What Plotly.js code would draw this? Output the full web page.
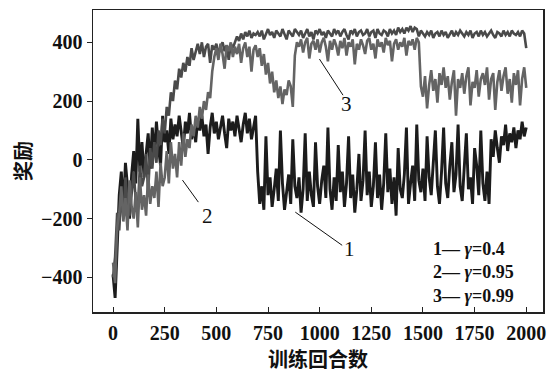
<!DOCTYPE html>
<html>
<head>
<meta charset="utf-8">
<script src="https://cdn.plot.ly/plotly-3.0.1.min.js"></script>
<style>html,body{margin:0;padding:0;background:#fff;}#chart{width:548px;height:375px;}</style>
</head>
<body>
<div id="chart"></div>
<script>
const rewardG04 = [
  -390, -470, -300, -120, -40, -170, -10, -90, -200, -50,
  30, -80, 140, -40, 60, -60, 20, 90, -30, 110,
  10, 130, 40, -20, 150, 60, 100, 20, 140, 70,
  120, 80, 150, 100, 40, 130, 90, 160, 70, 110,
  60, 140, 100, 150, 80, 120, 20, 110, 160, 90,
  130, 70, 110, 150, 90, 40, 140, 100, 130, 80,
  150, 110, 60, 120, 160, 90, 140, 70, 110, 150,
  -40, -150, -90, -170, 80, -120, -60, -160, -100, -30,
  -140, 100, -80, -170, -110, -50, -150, 70, -90, -130,
  -60, -180, -100, 90, -140, -40, -120, -160, 60, -90,
  -150, -70, -20, -130, 110, -100, -170, -60, -140, 50,
  -110, -40, -160, -80, 80, -130, -50, -180, -100, 20,
  -140, -70, 100, -120, -40, -160, -90, 60, -130, -50,
  -170, -80, 90, -110, -30, -150, -60, -190, 40, -100,
  -130, -50, 110, -150, -80, -20, -140, 120, -70, -110,
  -30, -140, 80, -60, -120, -10, 100, -90, -150, -40,
  110, -80, -130, -20, 60, -110, -50, 120, -90, -140,
  -30, 90, -100, -60, -150, 40, -20, -120, 100, -80,
  -140, -40, -150, 70, 10, 100, 40, -10, 80, 50,
  120, 30, 90, 60, 110, 40, 100, 70, 130, 80,
  110
];
const rewardG095 = [
  -350, -420, -230, -180, -90, -210, -130, -240, -70, -160,
  -200, -110, -230, -60, -170, -120, -190, -50, -150, -90,
  -130, -40, -160, -10, -90, -60, 30, -80, 60, -30,
  20, -60, 60, -20, 90, 10, 70, 40, 120, 80,
  150, 110, 180, 140, 200, 170, 230, 210, 300, 350,
  380, 340, 395, 360, 310, 390, 370, 400, 350, 385,
  360, 395, 330, 380, 400, 350, 385, 300, 375, 390,
  350, 380, 320, 360, 290, 330, 260, 300, 230, 270,
  210, 250, 190, 240, 220, 270, 250, 180, 355, 400,
  385, 410, 365, 400, 415, 345, 395, 405, 375, 410,
  365, 400, 415, 385, 335, 405, 375, 410, 390, 355,
  405, 380, 415, 355, 400, 385, 410, 325, 395, 375,
  410, 390, 360, 405, 415, 375, 395, 345, 410, 385,
  400, 365, 415, 390, 405, 335, 395, 410, 375, 400,
  385, 415, 355, 405, 390, 410, 375, 415, 400, 250,
  215, 285, 175, 255, 305, 235, 275, 195, 295, 255,
  315, 245, 285, 205, 265, 305, 150, 275, 245, 295,
  225, 285, 315, 185, 265, 245, 305, 215, 275, 295,
  255, 315, 205, 275, 295, 170, 265, 305, 235, 285,
  315, 225, 275, 195, 295, 255, 305, 185, 275, 315,
  245
];
const rewardG099 = [
  -400, -330, -180, -240, -110, -200, -60, -150, -190, -100,
  -40, -140, -170, -20, -90, -60, 20, -110, 40, -30,
  60, -10, 100, 50, 140, 90, 180, 150, 230, 200,
  270, 240, 310, 280, 330, 300, 350, 320, 380, 340,
  370, 395, 360, 400, 350, 385, 395, 330, 390, 375,
  395, 360, 385, 400, 370, 390, 340, 395, 380, 400,
  420, 405, 430, 410, 435, 420, 440, 415, 430, 425,
  435, 420, 440, 410, 430, 445, 425, 435, 415, 440,
  430, 420, 445, 425, 410, 440, 430, 420, 445, 435,
  425, 440, 415, 430, 445, 420, 435, 410, 440, 430,
  445, 425, 435, 415, 440, 430, 420, 445, 430, 440,
  420, 435, 445, 425, 410, 440, 430, 445, 420, 435,
  440, 425, 430, 445, 420, 435, 440, 415, 445, 430,
  425, 440, 435, 420, 445, 430, 440, 425, 450, 435,
  445, 430, 450, 440, 455, 435, 450, 445, 420, 440,
  430, 420, 435, 425, 440, 415, 430, 435, 420, 440,
  425, 435, 415, 430, 440, 420, 435, 425, 440, 430,
  420, 435, 425, 440, 415, 430, 435, 420, 440, 425,
  435, 420, 430, 440, 425, 415, 435, 430, 420, 440,
  425, 435, 420, 440, 430, 425, 435, 420, 440, 430,
  380
];
const sampleStep = 10;
const episodes = rewardG04.map((_, i) => i * sampleStep);

const xTicks = [0, 250, 500, 750, 1000, 1250, 1500, 1750, 2000];
const yTicks = [-400, -200, 0, 200, 400];
const seriesNames = ['1— γ=0.4', '2— γ=0.95', '3— γ=0.99'];
const seriesColors = ['#1c1c1c', '#646464', '#4a4a4a'];
const seriesWidths = [2.9, 2.6, 2.6];

const serif = 'Liberation Serif, Times New Roman, serif';
const cjk = 'Noto Sans CJK SC, sans-serif';

function tr(y, i) {
  return {x: episodes, y: y, type: 'scatter', mode: 'lines', name: seriesNames[i],
          line: {color: seriesColors[i], width: seriesWidths[i]}, showlegend: false};
}
const data = [tr(rewardG04, 0), tr(rewardG099, 2), tr(rewardG095, 1)];

const lineStyle = {color: '#111', width: 1};
const layout = {
  width: 548, height: 375,
  margin: {l: 93, r: 5, t: 10, b: 63},
  paper_bgcolor: '#fff', plot_bgcolor: '#fff',
  xaxis: {
    range: [-97, 2081], tickvals: xTicks, ticktext: xTicks.map(String),
    ticks: 'inside', ticklen: 5, tickcolor: '#222', tickwidth: 1,
    showline: true, mirror: true, linecolor: '#222', linewidth: 1.5,
    showgrid: false, zeroline: false, ticklabelstandoff: 2,
    tickfont: {family: serif, size: 20, color: '#111', weight: 'bold'},
    title: {text: '训练回合数', font: {family: cjk, size: 20, color: '#111', weight: 'bold'}, standoff: 8}
  },
  yaxis: {
    range: [-518, 510], tickvals: yTicks, ticktext: ['−400', '−200', '0', '200', '400'],
    ticks: 'outside', ticklen: 5, tickcolor: '#222', tickwidth: 1,
    showline: true, mirror: true, linecolor: '#222', linewidth: 1.5,
    showgrid: false, zeroline: false,
    tickfont: {family: serif, size: 20, color: '#111', weight: 'bold'},
    title: {text: '奖励', font: {family: cjk, size: 20, color: '#111', weight: 'bold'}, standoff: 4}
  },
  shapes: [
    {type: 'line', xref: 'x', yref: 'y', x0: 882, y0: -178, x1: 1109, y1: -291, line: lineStyle},
    {type: 'line', xref: 'x', yref: 'y', x0: 336, y0: -69, x1: 413, y1: -144, line: lineStyle},
    {type: 'line', xref: 'x', yref: 'y', x0: 999, y0: 343, x1: 1113, y1: 220, line: lineStyle}
  ],
  annotations: [
    {xref: 'x', yref: 'y', x: 1143, y: -303, text: '1', showarrow: false, font: {family: serif, size: 21, color: '#111'}},
    {xref: 'x', yref: 'y', x: 455, y: -190, text: '2', showarrow: false, font: {family: serif, size: 21, color: '#111'}},
    {xref: 'x', yref: 'y', x: 1132, y: 190, text: '3', showarrow: false, font: {family: serif, size: 21, color: '#111'}},
    {xref: 'paper', yref: 'paper', x: 0.754, y: 0.13, xanchor: 'left', yanchor: 'middle', align: 'left', showarrow: false,
     borderpad: 0,
     text: '1— <i>γ</i>=0.4<br>2— <i>γ</i>=0.95<br>3— <i>γ</i>=0.99', font: {family: serif, size: 18, color: '#111', weight: 'bold'}}
  ]
};
Plotly.newPlot('chart', data, layout, {displayModeBar: false, staticPlot: true});
</script>
</body>
</html>
